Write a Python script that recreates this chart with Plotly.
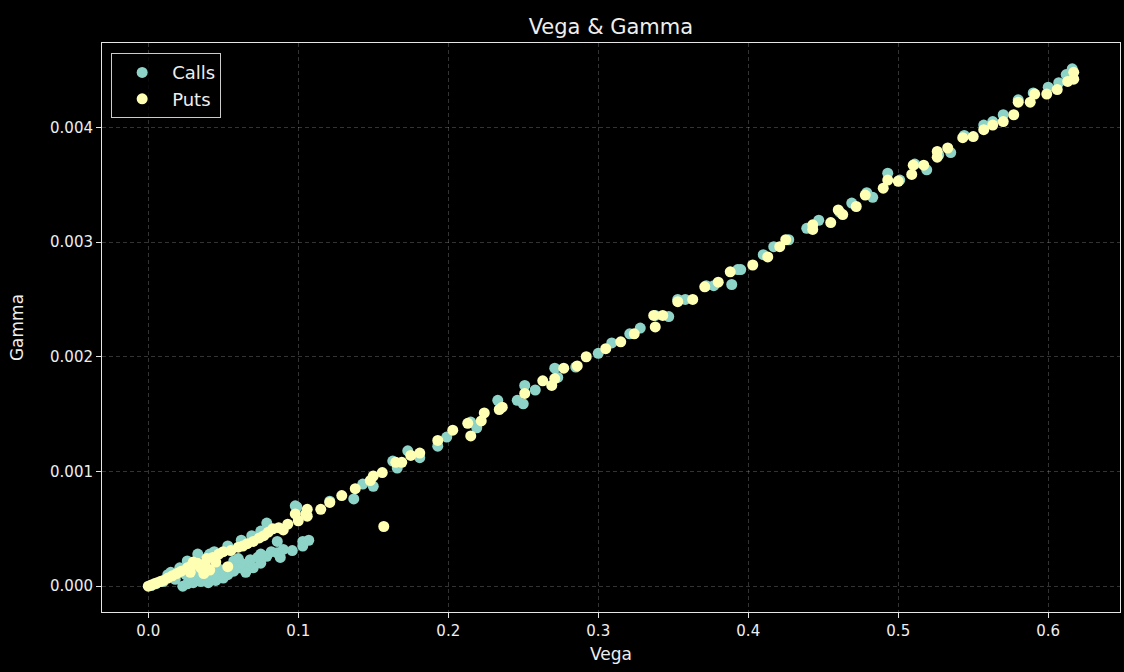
import plotly.graph_objects as go

# Option greeks: vega vs gamma for call and put contracts
calls_vega = [
    0.616, 0.612, 0.607, 0.600, 0.590, 0.580, 0.570, 0.563, 0.557, 0.544,
    0.535, 0.527, 0.519, 0.511, 0.501, 0.493, 0.483, 0.479, 0.469, 0.461,
    0.447, 0.439, 0.427, 0.417, 0.410, 0.395, 0.393, 0.389, 0.377, 0.372,
    0.358, 0.353, 0.347, 0.338, 0.328, 0.321, 0.309, 0.300, 0.285, 0.271,
    0.273, 0.258, 0.251, 0.246, 0.250, 0.233, 0.219, 0.215, 0.199, 0.193,
    0.181, 0.173, 0.163, 0.166, 0.150, 0.143, 0.137, 0.121, 0.099, 0.107,
    0.103, 0.103, 0.096, 0.090, 0.086, 0.079, 0.073, 0.070, 0.066, 0.061,
    0.057, 0.053, 0.048, 0.041, 0.035, 0.030, 0.026, 0.023, 0.098, 0.079,
    0.069, 0.053, 0.033, 0.040, 0.021, 0.013, 0.086, 0.057, 0.046, 0.035,
    0.028, 0.033, 0.038, 0.044, 0.050, 0.055, 0.062, 0.068, 0.075, 0.082,
    0.088, 0.060, 0.045, 0.040, 0.050, 0.065, 0.075, 0.030, 0.025, 0.018,
    0.010, 0.005, 0.002, 0.015, 0.026, 0.044, 0.062, 0.075, 0.041,
]
calls_gamma = [
    0.00451, 0.00446, 0.00439, 0.00435, 0.00430, 0.00424, 0.00411, 0.00405, 0.00402, 0.00393,
    0.00378, 0.00376, 0.00363, 0.00368, 0.00354, 0.00360, 0.00339, 0.00343, 0.00334, 0.00326,
    0.00319, 0.00312, 0.00302, 0.00296, 0.00289, 0.00276, 0.00276, 0.00263, 0.00262, 0.00262,
    0.00250, 0.00250, 0.00235, 0.00236, 0.00225, 0.00220, 0.00212, 0.00203, 0.00191, 0.00190,
    0.00182, 0.00171, 0.00175, 0.00162, 0.00159, 0.00162, 0.00138, 0.00143, 0.00130, 0.00122,
    0.00112, 0.00118, 0.00109, 0.00103, 0.00087, 0.00089, 0.00076, 0.00074, 0.00069, 0.00040,
    0.00039, 0.00035, 0.00031, 0.00032, 0.00029, 0.00026, 0.00025, 0.00016, 0.00019, 0.00016,
    0.00013, 0.00010, 0.00009, 0.00007, 0.00004, 0.00003, 0.00002, 0.00000, 0.00070, 0.00055,
    0.00044, 0.00035, 0.00028, 0.00026, 0.00016, 0.00010, 0.00039, 0.00022, 0.00016, 0.00012,
    0.00005, 0.00008, 0.00010, 0.00012, 0.00014, 0.00017, 0.00020, 0.00023, 0.00028, 0.00030,
    0.00025, 0.00024, 0.00005, 0.00003, 0.00007, 0.00012, 0.00020, 0.00014, 0.00010, 0.00006,
    0.00004, 0.00002, 0.000005, 0.00012, 0.00022, 0.00030, 0.00040, 0.00048, 0.00028,
]

puts_vega = [
    0.617, 0.617, 0.613, 0.606, 0.599, 0.591, 0.588, 0.580, 0.577, 0.570,
    0.563, 0.557, 0.550, 0.543, 0.533, 0.526, 0.526, 0.517, 0.510, 0.509,
    0.500, 0.493, 0.490, 0.478, 0.472, 0.463, 0.460, 0.455, 0.443, 0.443,
    0.425, 0.421, 0.413, 0.403, 0.388, 0.380, 0.371, 0.363, 0.353, 0.343,
    0.337, 0.338, 0.324, 0.315, 0.305, 0.292, 0.286, 0.277, 0.271, 0.263,
    0.269, 0.251, 0.236, 0.234, 0.224, 0.222, 0.213, 0.215, 0.203, 0.193,
    0.181, 0.175, 0.169, 0.165, 0.156, 0.150, 0.148, 0.138, 0.129, 0.121,
    0.115, 0.157, 0.106, 0.105, 0.098, 0.093, 0.106, 0.100, 0.083, 0.077,
    0.070, 0.063, 0.055, 0.047, 0.039, 0.033, 0.026, 0.019, 0.013, 0.006,
    0.000, 0.053, 0.037, 0.035, 0.002, 0.004, 0.008, 0.010, 0.016, 0.022,
    0.029, 0.043, 0.050, 0.060, 0.066, 0.074, 0.080, 0.087, 0.090, 0.030,
    0.038, 0.045, 0.041, 0.028,
]
puts_gamma = [
    0.00448, 0.00442, 0.00440, 0.00433, 0.00429, 0.00429, 0.00422, 0.00422, 0.00411, 0.00405,
    0.00402, 0.00398, 0.00392, 0.00391, 0.00382, 0.00379, 0.00374, 0.00367, 0.00367, 0.00359,
    0.00353, 0.00354, 0.00347, 0.00341, 0.00331, 0.00324, 0.00328, 0.00317, 0.00315, 0.00311,
    0.00302, 0.00296, 0.00287, 0.00280, 0.00274, 0.00265, 0.00261, 0.00250, 0.00248, 0.00236,
    0.00236, 0.00226, 0.00220, 0.00213, 0.00207, 0.00200, 0.00192, 0.00190, 0.00181, 0.00179,
    0.00175, 0.00168, 0.00156, 0.00154, 0.00151, 0.00144, 0.00142, 0.00131, 0.00136, 0.00127,
    0.00116, 0.00114, 0.00108, 0.00108, 0.00099, 0.00096, 0.00092, 0.00085, 0.00079, 0.00073,
    0.00067, 0.00052, 0.00067, 0.00063, 0.00063, 0.00054, 0.00061, 0.00057, 0.00050, 0.00044,
    0.00039, 0.00035, 0.00031, 0.00028, 0.00024, 0.00020, 0.00016, 0.00011, 0.00007, 0.00003,
    0.00000, 0.00017, 0.00011, 0.00016, 0.00001, 0.00002, 0.00004, 0.00005, 0.00009, 0.00013,
    0.00018, 0.00025, 0.00030, 0.00034, 0.00037, 0.00042, 0.00047, 0.00051, 0.00049, 0.00021,
    0.00019, 0.00021, 0.00014, 0.00012,
]

x_ticks = [0.0, 0.1, 0.2, 0.3, 0.4, 0.5, 0.6]
y_ticks = [0.000, 0.001, 0.002, 0.003, 0.004]

CALL_COLOR = "#8dd3c7"
PUT_COLOR = "#feffb3"
TEXT = "#eeeeee"
FONT = "DejaVu Sans"


def padded_range(*series, pad=0.05):
    lo = min(min(s) for s in series)
    hi = max(max(s) for s in series)
    span = hi - lo
    return [lo - pad * span, hi + pad * span]


fig = go.Figure()
fig.add_trace(go.Scatter(
    x=calls_vega, y=calls_gamma, mode="markers", name="Calls",
    marker=dict(color=CALL_COLOR, size=11, line=dict(width=0)),
))
fig.add_trace(go.Scatter(
    x=puts_vega, y=puts_gamma, mode="markers", name="Puts",
    marker=dict(color=PUT_COLOR, size=11, line=dict(width=0)),
))

axis_common = dict(
    showline=True, mirror=True, linecolor="#e6e6e6", linewidth=1,
    ticks="outside", ticklen=5, tickwidth=1, tickcolor="#e6e6e6",
    showgrid=True, gridcolor="rgba(255,255,255,0.2)", griddash="4px,3px",
    gridwidth=1, zeroline=False,
    tickfont=dict(family=FONT, size=15, color=TEXT),
)

fig.update_layout(
    width=1124, height=672,
    margin=dict(l=102, r=4, t=43, b=60),
    paper_bgcolor="#000000", plot_bgcolor="#000000",
    font=dict(family=FONT, color=TEXT),
    title=dict(
        text="Vega & Gamma", x=0.5435, xanchor="center",
        y=1 - 27 / 672, yanchor="middle", yref="container",
        font=dict(family=FONT, size=21, color=TEXT),
    ),
    xaxis=dict(
        **axis_common,
        range=padded_range(calls_vega, puts_vega),
        tickvals=x_ticks, tickformat=".1f",
        title=dict(text="Vega", standoff=9,
                   font=dict(family=FONT, size=17, color=TEXT)),
    ),
    yaxis=dict(
        **axis_common,
        range=padded_range(calls_gamma, puts_gamma),
        tickvals=y_ticks, tickformat=".3f",
        title=dict(text="Gamma", standoff=22,
                   font=dict(family=FONT, size=17, color=TEXT)),
    ),
    legend=dict(
        x=0.009, y=0.982, xanchor="left", yanchor="top",
        bgcolor="rgba(0,0,0,0.8)", bordercolor="#cccccc", borderwidth=1,
        font=dict(family=FONT, size=18, color=TEXT),
        itemsizing="trace", itemwidth=50, tracegroupgap=0,
    ),
    showlegend=True,
)

fig.write_html("out.html")
